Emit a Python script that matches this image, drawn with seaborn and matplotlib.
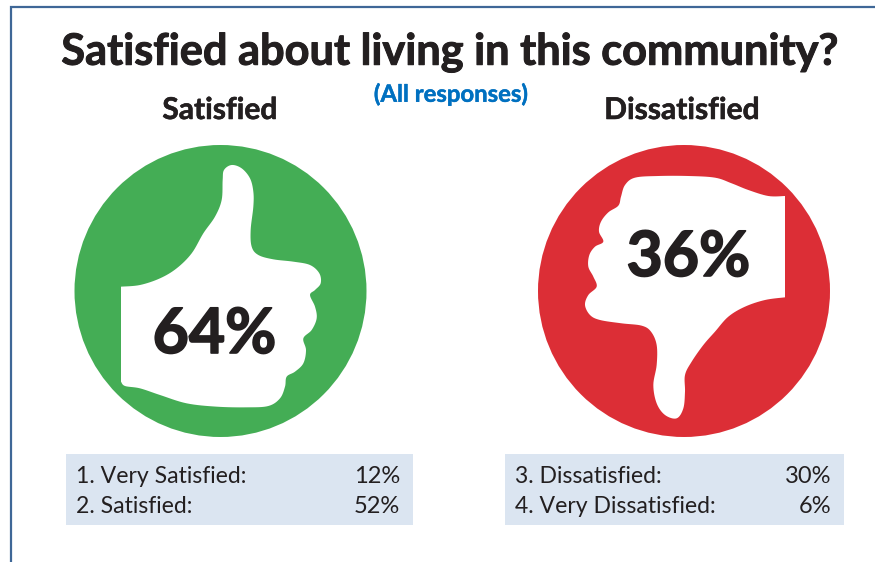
import numpy as np
import pandas as pd
import seaborn as sns
import matplotlib
matplotlib.use("Agg")
import matplotlib.pyplot as plt
import matplotlib.patheffects as pe
from matplotlib.patches import Polygon, Rectangle

# Survey results
groups = ["Satisfied", "Dissatisfied"]
group_totals = [64, 36]
rows_satisfied = ["1. Very Satisfied:", "2. Satisfied:"]
values_satisfied = [12, 52]
rows_dissatisfied = ["3. Dissatisfied:", "4. Very Dissatisfied:"]
values_dissatisfied = [30, 6]

TITLE = "Satisfied about living in this community?"
SUBTITLE = "(All responses)"

# Badge centres on the pixel canvas
badge_x = [220.5, 684]
badge_y = [291, 291]

# Hand icon outlines (canvas pixels, scaled by 3, with an offset per icon)
thumb_up = [(183,410),(240,405),(300,385),(350,355),(395,310),(430,250),(465,200),(485,150),
            (488,90),(492,60),(515,45),(545,55),(570,85),(580,125),(580,170),(572,240),(575,290),
            (595,315),(640,328),(700,335),(750,345),(778,370),(782,400),(765,420),(750,435),
            (765,470),(770,505),(755,540),(730,565),(738,600),(730,640),(705,665),(680,680),
            (675,710),(660,745),(625,768),(560,772),(470,770),(380,760),(300,735),(240,715),
            (195,708),(183,695)]
thumb_down = [(780,183),(730,183),(670,165),(620,145),(570,128),(490,123),(400,123),(330,128),
              (300,150),(288,185),(280,212),(250,232),(228,260),(222,290),(235,320),(210,335),
              (193,360),(190,395),(205,425),(215,455),(190,480),(180,510),(195,540),(225,555),
              (290,565),(350,572),(378,590),(395,630),(395,690),(385,750),(395,805),(420,840),
              (455,850),(475,820),(480,770),(480,720),(500,680),(535,630),(570,590),(610,545),
              (660,515),(720,495),(780,487)]


def smooth(points, n=8):
    """Catmull-Rom resampling so the icon edge reads as a curve."""
    p = np.array(points, dtype=float)
    p = np.vstack([p[0], p, p[-1]])
    out = []
    for i in range(1, len(p) - 2):
        for t in np.linspace(0, 1, n, endpoint=False):
            a, b, c, d = p[i - 1], p[i], p[i + 1], p[i + 2]
            out.append(0.5 * (2 * b + (c - a) * t + (2 * a - 5 * b + 4 * c - d) * t ** 2
                              + (3 * b - a - 3 * c + d) * t ** 3))
    out.append(p[-2])
    return np.array(out)


sns.set_theme(style="white")
plt.rcParams["font.family"] = ["Lato", "DejaVu Sans"]

fig = plt.figure(figsize=(8.75, 5.62), dpi=100, facecolor="white")
ax = fig.add_axes([0, 0, 1, 1])

badges = pd.DataFrame({"group": groups, "x": badge_x, "y": badge_y})
diameter_pt = 292 * 72 / 100
sns.scatterplot(data=badges, x="x", y="y", hue="group",
                palette={"Satisfied": "#44ad55", "Dissatisfied": "#dc2e36"},
                s=diameter_pt ** 2, linewidth=0, legend=False, ax=ax, zorder=2)

ax.set_xlim(0, 875)
ax.set_ylim(562, 0)
ax.set_axis_off()

up = smooth(thumb_up) / 3 + (60, 150)
down = smooth(thumb_down) / 3 + (525, 135)
ax.add_patch(Polygon(up, closed=True, fc="white", ec="none", zorder=3))
ax.add_patch(Polygon(down, closed=True, fc="white", ec="none", zorder=3))

# Frame open on the right and bottom
FRAME = "#3f6797"
ax.plot([10.5, 10.5, 875], [562, 7, 7], color=FRAME, lw=1.6, solid_joinstyle="miter", zorder=1)

DARK = "#231f20"


def heavy(color, width):
    """Thicken the bold face a little with a stroke of its own colour."""
    return [pe.withStroke(linewidth=width, foreground=color)]


ax.text(450.5, 52, TITLE, ha="center", va="center", fontsize=31.2, fontweight="bold",
        color=DARK, path_effects=heavy(DARK, 0.7))
ax.text(451, 94, SUBTITLE, ha="center", va="center", fontsize=17.2, fontweight="bold",
        color="#0070c0", path_effects=heavy("#0070c0", 0.3))
ax.text(220, 110, groups[0], ha="center", va="center", fontsize=21.6, fontweight="bold",
        color=DARK, path_effects=heavy(DARK, 0.4))
ax.text(682, 110, groups[1], ha="center", va="center", fontsize=21.6, fontweight="bold",
        color=DARK, path_effects=heavy(DARK, 0.4))

ax.text(214.5, 335, f"{group_totals[0]}%", ha="center", va="center", fontsize=45,
        fontweight="bold", color=DARK, zorder=4, path_effects=heavy(DARK, 1.2))
ax.text(688.5, 258, f"{group_totals[1]}%", ha="center", va="center", fontsize=45,
        fontweight="bold", color=DARK, zorder=4, path_effects=heavy(DARK, 1.2))

# Breakdown panels
panels = [(66, 413, 76, 400, rows_satisfied, values_satisfied),
          (505, 844, 515, 831, rows_dissatisfied, values_dissatisfied)]
for x0, x1, tx, vx, labels, values in panels:
    ax.add_patch(Rectangle((x0, 454), x1 - x0, 71, fc="#dbe5f1", ec="none", zorder=1))
    for yy, label, value in zip([476.5, 506.5], labels, values):
        ax.text(tx, yy, label, ha="left", va="center", fontsize=16.6, color=DARK, zorder=4)
        ax.text(vx, yy, f"{value}%", ha="right", va="center", fontsize=17, color=DARK, zorder=4)

fig.savefig("out.png", dpi=100, facecolor="white")
